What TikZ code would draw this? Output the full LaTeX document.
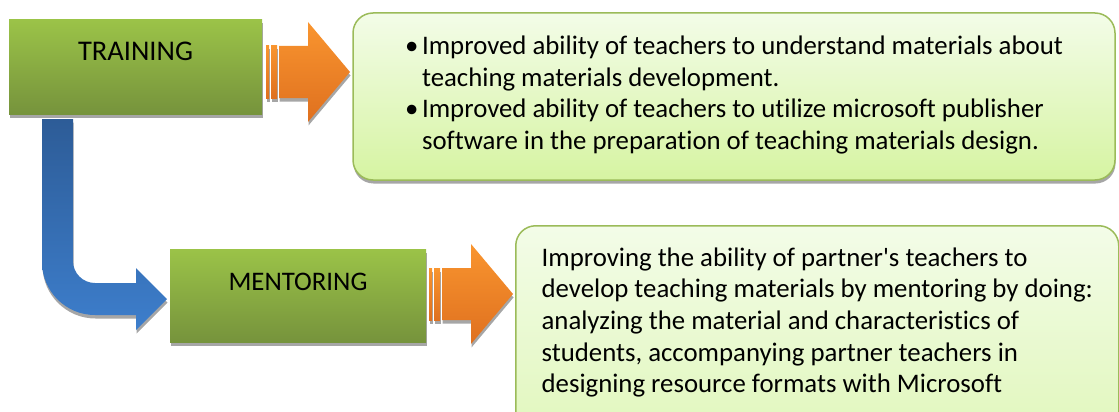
\documentclass[tikz,border=0pt]{standalone}
\usepackage{fontspec}
\setmainfont{Carlito}[Ligatures={NoCommon}]
\usetikzlibrary{shadows}
\definecolor{hijauA}{HTML}{9BC348}
\definecolor{hijauB}{HTML}{76933C}
\definecolor{oranyeA}{HTML}{F9952F}
\definecolor{oranyeB}{HTML}{DF701F}
\definecolor{biruA}{HTML}{2D5C97}
\definecolor{biruB}{HTML}{3D7ECC}
\definecolor{mudaA}{HTML}{F3FCE8}
\definecolor{mudaB}{HTML}{D6F4A2}
\definecolor{garis}{HTML}{9BBB59}
\definecolor{bayang}{HTML}{A6A6A6}
\begin{document}
\begin{tikzpicture}[x=1pt,y=-1pt]
\tikzset{
    bayangan/.style={drop shadow={shadow xshift=0.5pt, shadow yshift=-3.5pt, fill=bayang, opacity=1}},
    kotak/.style={rectangle, inner sep=0pt, top color=hijauA, bottom color=hijauB, bayangan},
    hasil/.style={rectangle, rounded corners=20pt, draw=garis, line width=1.5pt,
                  top color=mudaA, bottom color=mudaB, bayangan, align=left,
                  font=\fontsize{26.8}{31.6}\selectfont},
    oranye/.style={top color=oranyeA, bottom color=oranyeB, bayangan},
    panah/.pic={
        \path[oranye] (0,-26) rectangle (3,26);
        \path[oranye] (5,-26) rectangle (11,26);
        \path[oranye] (13,-26) -- (42,-26) -- (42,-50) -- (84,0) -- (42,50)
                      -- (42,26) -- (13,26) -- cycle;
    }
}
\useasboundingbox (0,0) rectangle (1119,412);
\clip (0,0) rectangle (1119,412);
% Kotak kegiatan
\node[kotak, minimum width=253pt, minimum height=94pt, text height=18pt, text depth=30pt,
      font=\fontsize{28.5}{34}\selectfont] (training) at (135.5,67) {TRAINING};
\node[kotak, minimum width=256pt, minimum height=93pt, text height=16pt, text depth=27pt,
      font=\fontsize{26.8}{31}\selectfont] (mentoring) at (298,295.5) {MENTORING};
% Panah biru dari training ke mentoring
\path[top color=biruA, bottom color=biruB, bayangan]
    (42,119) -- (42,262) arc[start angle=180, end angle=90, radius=53]
    -- (136,315) -- (136,330) -- (167,299) -- (136,268) -- (136,283) -- (95,283)
    arc[start angle=90, end angle=180, radius=22] -- (73,119) -- cycle;
% Panah oranye ke hasil
\pic at (266,72) {panah};
\pic at (429,294) {panah};
% Kotak hasil
\node[hasil, inner sep=0pt, minimum width=762pt, minimum height=167pt, text depth=8pt]
    (hasil1) at (734,96.5)
    {\makebox[17pt][l]{\textbullet}Improved ability of teachers to understand materials about\\
     \hspace*{17pt}teaching materials development.\\
     \makebox[17pt][l]{\textbullet}Improved ability of teachers to utilize microsoft publisher\\
     \hspace*{17pt}software in the preparation of teaching materials design.};
\node[hasil, anchor=north west, minimum width=603pt, inner xsep=20pt, inner ysep=22pt,
      text depth=150pt] (hasil2) at (515,225)
    {Improving the ability of partner\textquotesingle s teachers to\\
     develop teaching materials by mentoring by doing:\\
     analyzing the material and characteristics of\\
     students, accompanying partner teachers in\\
     designing resource formats with Microsoft};
\end{tikzpicture}
\end{document}
